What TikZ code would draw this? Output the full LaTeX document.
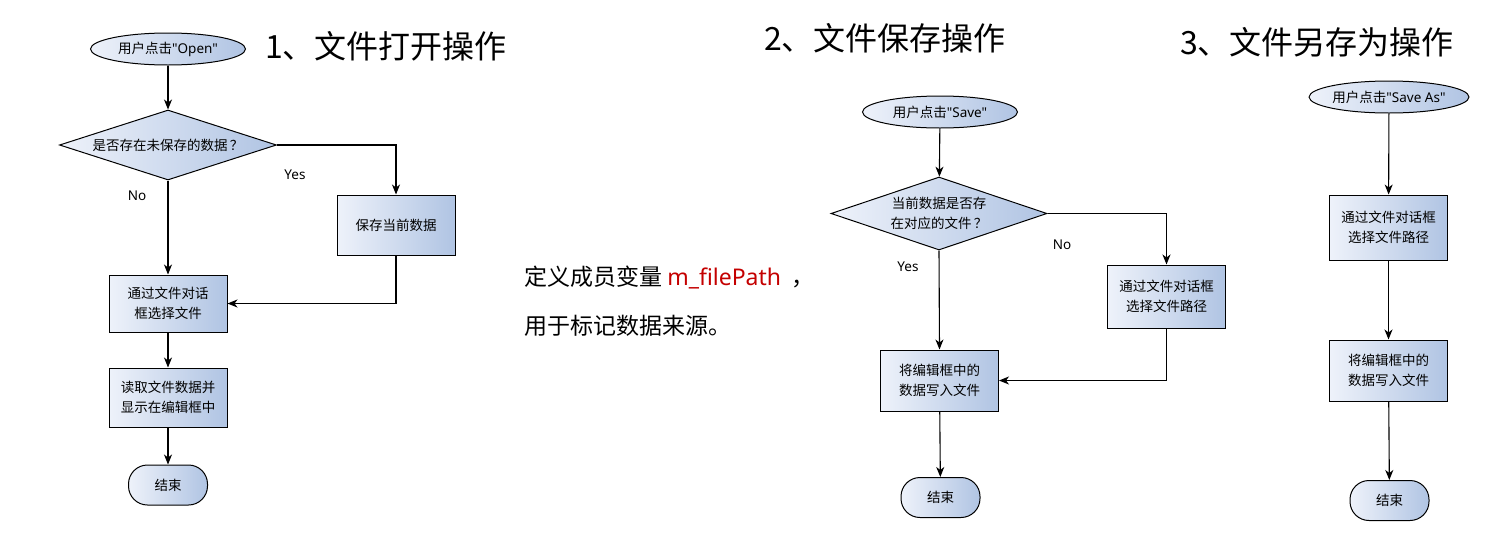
\documentclass[tikz,border=0pt]{standalone}
\usepackage{fontspec}
\setmainfont{Noto Sans CJK SC}
\newfontfamily\latinfont{Noto Sans}
\usetikzlibrary{shapes.geometric,arrows.meta}
\definecolor{shl}{RGB}{238,242,250}
\definecolor{shr}{RGB}{176,196,227}
\definecolor{vred}{RGB}{196,0,0}
\newcommand{\qq}{{\latinfont"}}
\tikzset{
  shadefill/.style={left color=shl,right color=shr,draw=black,line width=1pt},
  startnode/.style={ellipse,shadefill,minimum width=155pt,minimum height=32pt,inner sep=0pt,font=\fontsize{13.5}{16}\selectfont},
  procbox/.style={rectangle,shadefill,minimum width=118pt,inner sep=0pt,align=center,font=\fontsize{13.5}{20}\selectfont},
  decbox/.style={diamond,shadefill,aspect=3,inner sep=0pt,align=center,font=\fontsize{13.5}{20}\selectfont},
  endbox/.style={rectangle,rounded corners=19pt,shadefill,minimum width=79pt,minimum height=40pt,inner sep=0pt,font=\fontsize{13.5}{16}\selectfont},
  arr/.style={line width=1.1pt,-{Stealth[length=10pt,width=8pt,inset=3pt]}},
  lbl/.style={font=\fontsize{13.5}{16}\selectfont\latinfont,inner sep=0pt},
  ttl/.style={font=\fontsize{32}{36}\selectfont,inner sep=0pt,anchor=west},
  note/.style={font=\fontsize{23}{28}\selectfont,inner sep=0pt,anchor=west}
}
\begin{document}
\begin{tikzpicture}[x=1pt,y=-1pt]
\useasboundingbox (0,0) rectangle (1486,544);
% titles
\node[ttl] (t1) at (265,46) {1、文件打开操作};
\node[ttl] (t2) at (764,38) {2、文件保存操作};
\node[ttl] (t3) at (1180,42) {3、文件另存为操作};
% note
\node[note] (n1) at (524,278) {定义成员变量 \textcolor{vred}{\latinfont m\_filePath} \ ，};
\node[note] (n2) at (524,326) {用于标记数据来源。};
% flow 1
\node[startnode] (s1) at (168,49) {用户点击\qq{\latinfont Open}\qq};
\node[decbox,minimum width=217pt,minimum height=70pt] (d1) at (168,145) {是否存在未保存的数据\,？};
\node[procbox,minimum height=60pt] (p1a) at (396,225) {保存当前数据};
\node[procbox,minimum height=57pt] (p1b) at (168,303.5) {通过文件对话\\框选择文件};
\node[procbox,minimum height=59pt] (p1c) at (168,397.5) {读取文件数据并\\显示在编辑框中};
\node[endbox] (e1) at (168,485) {结束};
\node[lbl] (y1) at (295,175) {Yes};
\node[lbl] (no1) at (137,196) {No};
\draw[arr] (s1) -- (d1);
\draw[arr] (d1.east) -| (p1a.north);
\draw[arr] (d1.south) -- (p1b.north);
\draw[arr] (p1a.south) |- (p1b.east);
\draw[arr] (p1b) -- (p1c);
\draw[arr] (p1c) -- (e1);
% flow 2
\node[startnode] (s2) at (940,112) {用户点击\qq{\latinfont Save}\qq};
\node[decbox,minimum width=216pt,minimum height=73pt] (d2) at (939,213.5) {当前数据是否存\\在对应的文件\,？};
\node[procbox,minimum height=63pt] (q2) at (1166.5,296.5) {通过文件对话框\\选择文件路径};
\node[procbox,minimum height=61pt] (w2) at (939.5,380.5) {将编辑框中的\\数据写入文件};
\node[endbox] (e2) at (940.5,497.5) {结束};
\node[lbl] (no2) at (1062,245) {No};
\node[lbl] (y2) at (908,267) {Yes};
\draw[arr] (s2) -- (d2);
\draw[arr] (d2.east) -| (q2.north);
\draw[arr] (d2.south) -- (w2.north);
\draw[arr] (q2.south) |- (w2.east);
\draw[arr] (w2) -- (e2);
% flow 3
\node[startnode] (s3) at (1389,97) {用户点击\qq{\latinfont Save As}\qq};
\node[procbox,minimum height=65pt] (a3) at (1388.5,227.5) {通过文件对话框\\选择文件路径};
\node[procbox,minimum height=61pt] (b3) at (1388.5,370.5) {将编辑框中的\\数据写入文件};
\node[endbox] (e3) at (1389.5,500.5) {结束};
\draw[arr] (s3) -- (a3);
\draw[arr] (a3) -- (b3);
\draw[arr] (b3) -- (e3);
\end{tikzpicture}
\end{document}
